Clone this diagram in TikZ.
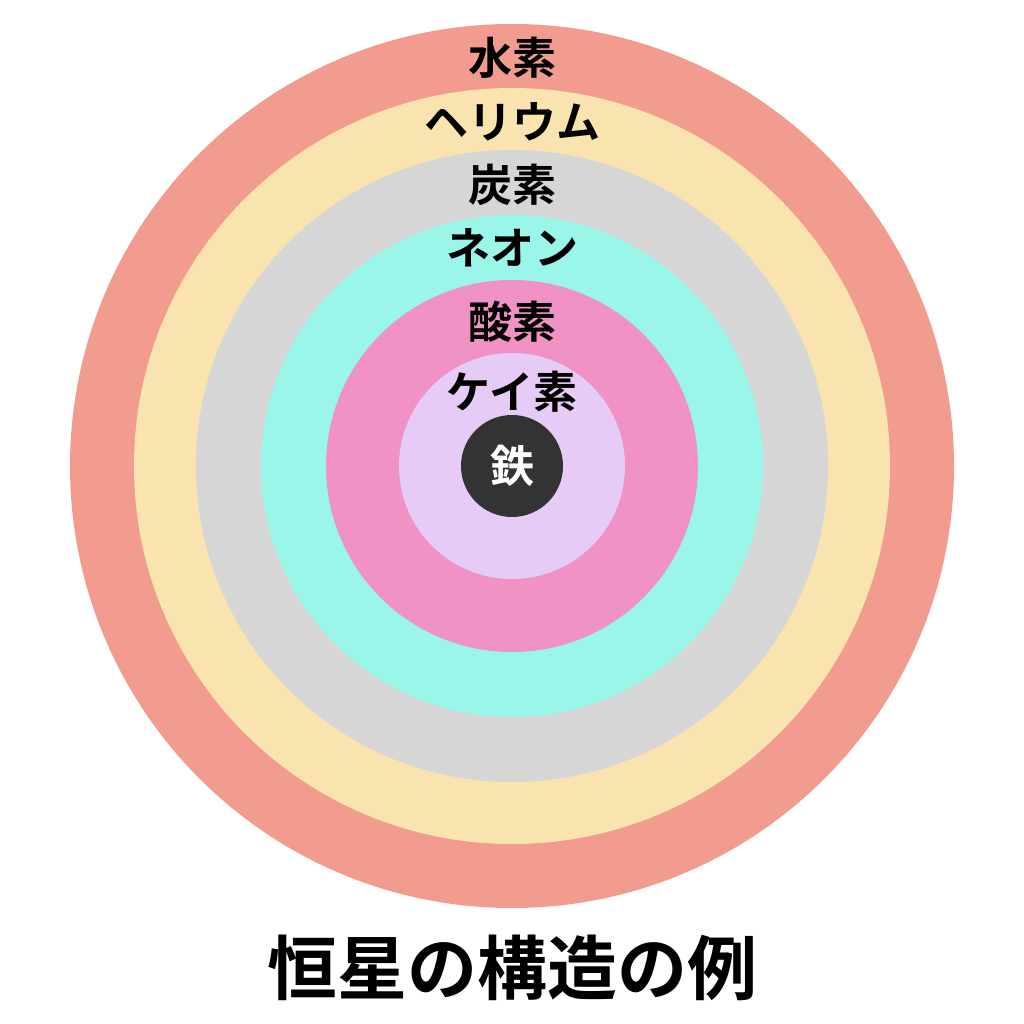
\documentclass[tikz,border=0pt]{standalone}
\usepackage{fontspec}
\newfontfamily\jp{Noto Sans CJK JP Bold}
\definecolor{cH}{HTML}{F29B8F}
\definecolor{cHe}{HTML}{F9E3AE}
\definecolor{cC}{HTML}{D6D6D6}
\definecolor{cNe}{HTML}{99F6E8}
\definecolor{cO}{HTML}{F093C4}
\definecolor{cSi}{HTML}{E6CBF7}
\definecolor{cFe}{HTML}{333333}
\tikzset{
  layer/.style={circle, inner sep=0pt, minimum size=#1},
  lbl/.style={font=\jp\fontsize{44}{44}\selectfont, text=black, inner sep=0pt},
}
\begin{document}
\begin{tikzpicture}[x=1pt,y=-1pt]
\useasboundingbox[fill=white] (0,0) rectangle (1024,1024);
\node[layer=884pt, fill=cH] (h) at (512,466) {};
\node[layer=756pt, fill=cHe] (he) at (512,466) {};
\node[layer=632pt, fill=cC] (c) at (512,466) {};
\node[layer=502pt, fill=cNe] (ne) at (512,466) {};
\node[layer=372pt, fill=cO] (o) at (512,466) {};
\node[layer=226pt, fill=cSi] (si) at (512,466) {};
\node[layer=102pt, fill=cFe] (fe) at (512,466) {};
\node[lbl] (th) at (512,58) {水素};
\node[lbl] (the) at (512,122) {ヘリウム};
\node[lbl] (tc) at (512,185) {炭素};
\node[lbl] (tne) at (512,248) {ネオン};
\node[lbl] (to) at (512,322) {酸素};
\node[lbl] (tsi) at (512,392) {ケイ素};
\node[lbl, text=white] (tfe) at (512,466) {鉄};
\node[font=\jp\fontsize{70}{70}\selectfont, inner sep=0pt] (title) at (512,968) {恒星の構造の例};
\end{tikzpicture}
\end{document}
